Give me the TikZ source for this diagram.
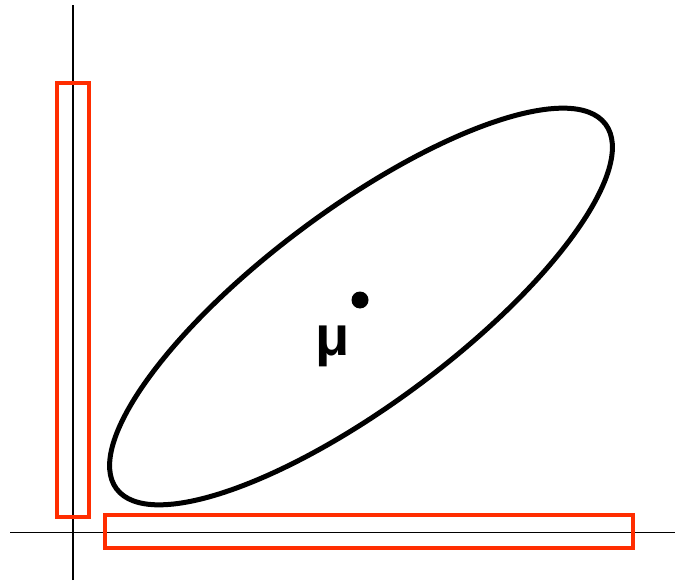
\documentclass[tikz,border=0pt]{standalone}
\usepackage{fontspec}
\setmainfont{Liberation Sans}
\usepackage{xcolor}
\definecolor{marginred}{RGB}{255,45,0}

\begin{document}
\begin{tikzpicture}[
    x=1pt, y=1pt,
    axis/.style={line width=1.4pt},
    marginal/.style={draw=marginred, line width=4pt},
    contour/.style={line width=5pt}
]
\useasboundingbox (0,0) rectangle (677,582);

% Axes
\coordinate (ytop) at (73,577);
\coordinate (ybot) at (73,2);
\coordinate (xleft) at (10,49.5);
\coordinate (xright) at (675,49.5);
\draw[axis] (ybot) -- (ytop);
\draw[axis] (xleft) -- (xright);

% Marginal boxes
\draw[marginal] (57,65) rectangle (89,499);
\draw[marginal] (105,34) rectangle (633,67);

% Covariance ellipse
\coordinate (centre) at (361,275.5);
\draw[contour] (centre) ellipse [x radius=305, y radius=97.4, rotate=36.7];

% Mean
\fill (360,282) circle (8.5);
\node[anchor=base, font=\fontsize{56}{60}\selectfont\bfseries, inner sep=0pt] (mu) at (333,227) {μ};

\end{tikzpicture}
\end{document}
